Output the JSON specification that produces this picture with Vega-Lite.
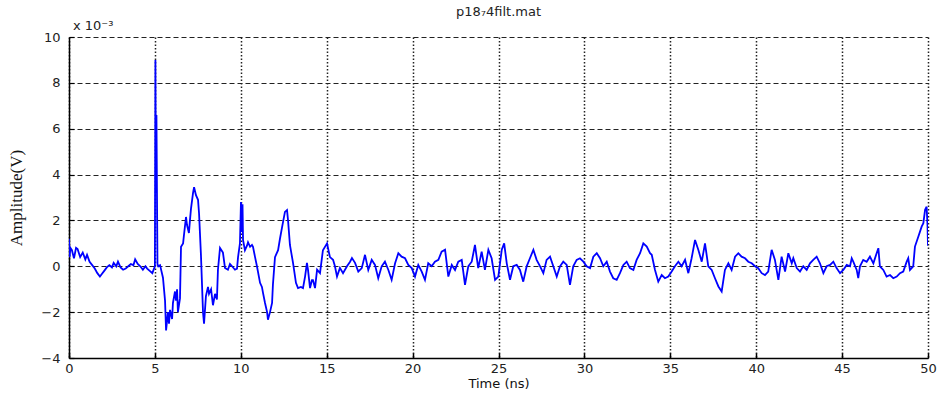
{
  "$schema": "https://vega.github.io/schema/vega-lite/v6.json",
  "width": 859,
  "height": 321,
  "autosize": {"type": "none"},
  "padding": {"left": 69, "top": 37, "right": 17, "bottom": 39},
  "background": "white",
  "config": {
    "view": {"stroke": null},
    "axis": {
      "labelFont": "DejaVu Sans",
      "labelFontSize": 13,
      "labelColor": "#222222",
      "titleColor": "#111111",
      "domainColor": "#000000",
      "domainWidth": 1.5,
      "tickColor": "#000000",
      "gridColor": "#222222",
      "gridWidth": 1,
      "gridOpacity": 1
    }
  },
  "datasets": {
    "signal": [
      {"t": 0.0, "amp_mV": 1.2}, {"t": 0.03, "amp_mV": 0.4}, {"t": 0.08, "amp_mV": 0.8},
      {"t": 0.17, "amp_mV": 0.7}, {"t": 0.29, "amp_mV": 0.35}, {"t": 0.41, "amp_mV": 0.8},
      {"t": 0.5, "amp_mV": 0.75}, {"t": 0.65, "amp_mV": 0.4}, {"t": 0.8, "amp_mV": 0.6},
      {"t": 0.95, "amp_mV": 0.3}, {"t": 1.05, "amp_mV": 0.5}, {"t": 1.2, "amp_mV": 0.2},
      {"t": 1.35, "amp_mV": 0.05}, {"t": 1.5, "amp_mV": -0.1}, {"t": 1.65, "amp_mV": -0.3},
      {"t": 1.8, "amp_mV": -0.45}, {"t": 1.9, "amp_mV": -0.35}, {"t": 2.05, "amp_mV": -0.2},
      {"t": 2.2, "amp_mV": -0.05}, {"t": 2.35, "amp_mV": 0.05}, {"t": 2.5, "amp_mV": -0.05},
      {"t": 2.6, "amp_mV": 0.15}, {"t": 2.75, "amp_mV": 0.0}, {"t": 2.85, "amp_mV": 0.2},
      {"t": 3.0, "amp_mV": -0.05}, {"t": 3.15, "amp_mV": -0.15}, {"t": 3.3, "amp_mV": -0.1},
      {"t": 3.45, "amp_mV": 0.0}, {"t": 3.6, "amp_mV": 0.1}, {"t": 3.75, "amp_mV": 0.05},
      {"t": 3.85, "amp_mV": 0.3}, {"t": 4.0, "amp_mV": 0.1}, {"t": 4.15, "amp_mV": 0.0},
      {"t": 4.3, "amp_mV": -0.15}, {"t": 4.45, "amp_mV": 0.0}, {"t": 4.55, "amp_mV": -0.1},
      {"t": 4.7, "amp_mV": -0.2}, {"t": 4.85, "amp_mV": -0.3}, {"t": 4.95, "amp_mV": -0.1},
      {"t": 5.0, "amp_mV": 0.0}, {"t": 5.03, "amp_mV": 9.0}, {"t": 5.06, "amp_mV": 3.2},
      {"t": 5.09, "amp_mV": 6.6}, {"t": 5.12, "amp_mV": 3.2}, {"t": 5.15, "amp_mV": 0.1},
      {"t": 5.2, "amp_mV": 0.0}, {"t": 5.3, "amp_mV": 0.05}, {"t": 5.47, "amp_mV": -0.5},
      {"t": 5.59, "amp_mV": -1.5}, {"t": 5.65, "amp_mV": -2.8}, {"t": 5.76, "amp_mV": -2.0},
      {"t": 5.82, "amp_mV": -2.5}, {"t": 5.88, "amp_mV": -1.9}, {"t": 6.0, "amp_mV": -2.3},
      {"t": 6.05, "amp_mV": -1.6}, {"t": 6.17, "amp_mV": -1.1}, {"t": 6.23, "amp_mV": -1.5},
      {"t": 6.29, "amp_mV": -1.0}, {"t": 6.34, "amp_mV": -2.0}, {"t": 6.46, "amp_mV": -1.4},
      {"t": 6.52, "amp_mV": 0.85}, {"t": 6.64, "amp_mV": 1.0}, {"t": 6.69, "amp_mV": 1.35},
      {"t": 6.81, "amp_mV": 2.15}, {"t": 6.87, "amp_mV": 1.8}, {"t": 6.98, "amp_mV": 1.45},
      {"t": 7.04, "amp_mV": 2.0}, {"t": 7.1, "amp_mV": 2.5}, {"t": 7.22, "amp_mV": 3.2},
      {"t": 7.28, "amp_mV": 3.45}, {"t": 7.39, "amp_mV": 3.1}, {"t": 7.51, "amp_mV": 2.9},
      {"t": 7.57, "amp_mV": 2.3}, {"t": 7.68, "amp_mV": 0.5}, {"t": 7.8, "amp_mV": -2.0},
      {"t": 7.86, "amp_mV": -2.5}, {"t": 7.97, "amp_mV": -1.3}, {"t": 8.09, "amp_mV": -0.9},
      {"t": 8.15, "amp_mV": -1.2}, {"t": 8.27, "amp_mV": -1.0}, {"t": 8.38, "amp_mV": -1.7},
      {"t": 8.5, "amp_mV": -1.2}, {"t": 8.61, "amp_mV": -1.45}, {"t": 8.67, "amp_mV": -0.15},
      {"t": 8.79, "amp_mV": 0.8}, {"t": 8.96, "amp_mV": 0.6}, {"t": 9.08, "amp_mV": -0.07},
      {"t": 9.25, "amp_mV": -0.15}, {"t": 9.37, "amp_mV": 0.1}, {"t": 9.49, "amp_mV": 0.0},
      {"t": 9.66, "amp_mV": -0.15}, {"t": 9.78, "amp_mV": -0.1}, {"t": 9.84, "amp_mV": 0.4},
      {"t": 9.95, "amp_mV": 1.0}, {"t": 10.01, "amp_mV": 2.8}, {"t": 10.07, "amp_mV": 1.5},
      {"t": 10.1, "amp_mV": 2.7}, {"t": 10.13, "amp_mV": 1.15}, {"t": 10.24, "amp_mV": 0.7},
      {"t": 10.36, "amp_mV": 0.9}, {"t": 10.42, "amp_mV": 1.05}, {"t": 10.54, "amp_mV": 0.85},
      {"t": 10.65, "amp_mV": 0.93}, {"t": 10.71, "amp_mV": 0.85}, {"t": 10.83, "amp_mV": 0.4},
      {"t": 10.94, "amp_mV": 0.0}, {"t": 11.12, "amp_mV": -0.72}, {"t": 11.23, "amp_mV": -0.9},
      {"t": 11.29, "amp_mV": -1.15}, {"t": 11.41, "amp_mV": -1.6}, {"t": 11.53, "amp_mV": -2.0},
      {"t": 11.58, "amp_mV": -2.33}, {"t": 11.7, "amp_mV": -2.0}, {"t": 11.82, "amp_mV": -1.6},
      {"t": 11.87, "amp_mV": -0.8}, {"t": 11.99, "amp_mV": 0.4}, {"t": 12.17, "amp_mV": 0.7},
      {"t": 12.28, "amp_mV": 1.2}, {"t": 12.4, "amp_mV": 1.7}, {"t": 12.57, "amp_mV": 2.37},
      {"t": 12.69, "amp_mV": 2.45}, {"t": 12.75, "amp_mV": 2.0}, {"t": 12.86, "amp_mV": 0.93},
      {"t": 13.04, "amp_mV": 0.15}, {"t": 13.21, "amp_mV": -0.72}, {"t": 13.33, "amp_mV": -0.95},
      {"t": 13.5, "amp_mV": -0.9}, {"t": 13.62, "amp_mV": -0.95}, {"t": 13.74, "amp_mV": -0.45},
      {"t": 13.85, "amp_mV": 0.15}, {"t": 13.91, "amp_mV": -0.15}, {"t": 14.03, "amp_mV": -0.95},
      {"t": 14.14, "amp_mV": -0.6}, {"t": 14.2, "amp_mV": -0.6}, {"t": 14.32, "amp_mV": -0.95},
      {"t": 14.44, "amp_mV": -0.15}, {"t": 14.61, "amp_mV": -0.3}, {"t": 14.78, "amp_mV": 0.7},
      {"t": 15.02, "amp_mV": 1.0}, {"t": 15.13, "amp_mV": 0.6}, {"t": 15.19, "amp_mV": 0.4},
      {"t": 15.37, "amp_mV": 0.28}, {"t": 15.48, "amp_mV": 0.0}, {"t": 15.6, "amp_mV": -0.45},
      {"t": 15.77, "amp_mV": -0.07}, {"t": 15.95, "amp_mV": -0.3}, {"t": 16.18, "amp_mV": 0.0},
      {"t": 16.36, "amp_mV": 0.2}, {"t": 16.47, "amp_mV": 0.36}, {"t": 16.65, "amp_mV": 0.15},
      {"t": 16.84, "amp_mV": -0.23}, {"t": 17.04, "amp_mV": -0.08}, {"t": 17.23, "amp_mV": 0.5},
      {"t": 17.42, "amp_mV": -0.16}, {"t": 17.62, "amp_mV": 0.28}, {"t": 17.81, "amp_mV": 0.06},
      {"t": 18.0, "amp_mV": -0.52}, {"t": 18.2, "amp_mV": 0.0}, {"t": 18.39, "amp_mV": 0.2},
      {"t": 18.59, "amp_mV": -0.16}, {"t": 18.78, "amp_mV": -0.59}, {"t": 18.98, "amp_mV": 0.13},
      {"t": 19.17, "amp_mV": 0.57}, {"t": 19.36, "amp_mV": 0.42}, {"t": 19.56, "amp_mV": 0.35},
      {"t": 19.75, "amp_mV": 0.06}, {"t": 19.95, "amp_mV": -0.08}, {"t": 20.14, "amp_mV": -0.45},
      {"t": 20.33, "amp_mV": 0.06}, {"t": 20.53, "amp_mV": -0.23}, {"t": 20.72, "amp_mV": -0.59},
      {"t": 20.91, "amp_mV": 0.13}, {"t": 21.11, "amp_mV": 0.0}, {"t": 21.3, "amp_mV": 0.2},
      {"t": 21.5, "amp_mV": 0.28}, {"t": 21.69, "amp_mV": 0.64}, {"t": 21.89, "amp_mV": 0.72},
      {"t": 22.08, "amp_mV": -0.45}, {"t": 22.28, "amp_mV": 0.06}, {"t": 22.47, "amp_mV": -0.16},
      {"t": 22.66, "amp_mV": 0.2}, {"t": 22.86, "amp_mV": 0.28}, {"t": 23.05, "amp_mV": -0.81},
      {"t": 23.24, "amp_mV": 0.0}, {"t": 23.44, "amp_mV": 0.2}, {"t": 23.63, "amp_mV": 0.93},
      {"t": 23.82, "amp_mV": -0.08}, {"t": 24.02, "amp_mV": 0.64}, {"t": 24.21, "amp_mV": -0.16},
      {"t": 24.41, "amp_mV": 0.72}, {"t": 24.6, "amp_mV": 0.35}, {"t": 24.8, "amp_mV": -0.59},
      {"t": 24.99, "amp_mV": -0.45}, {"t": 25.19, "amp_mV": 0.72}, {"t": 25.33, "amp_mV": 1.0},
      {"t": 25.48, "amp_mV": 0.13}, {"t": 25.67, "amp_mV": -0.59}, {"t": 25.86, "amp_mV": 0.0},
      {"t": 26.06, "amp_mV": 0.06}, {"t": 26.25, "amp_mV": -0.16}, {"t": 26.44, "amp_mV": -0.67},
      {"t": 26.64, "amp_mV": 0.0}, {"t": 26.83, "amp_mV": 0.35}, {"t": 27.03, "amp_mV": 0.72},
      {"t": 27.22, "amp_mV": 0.28}, {"t": 27.42, "amp_mV": 0.0}, {"t": 27.61, "amp_mV": -0.3},
      {"t": 27.8, "amp_mV": 0.28}, {"t": 28.0, "amp_mV": 0.42}, {"t": 28.19, "amp_mV": 0.0},
      {"t": 28.39, "amp_mV": -0.45}, {"t": 28.58, "amp_mV": 0.0}, {"t": 28.77, "amp_mV": 0.2},
      {"t": 28.97, "amp_mV": 0.06}, {"t": 29.16, "amp_mV": -0.81}, {"t": 29.35, "amp_mV": 0.0},
      {"t": 29.55, "amp_mV": 0.28}, {"t": 29.74, "amp_mV": 0.35}, {"t": 29.94, "amp_mV": 0.2},
      {"t": 30.13, "amp_mV": 0.0}, {"t": 30.33, "amp_mV": -0.08}, {"t": 30.52, "amp_mV": 0.42},
      {"t": 30.72, "amp_mV": 0.57}, {"t": 30.91, "amp_mV": 0.35}, {"t": 31.1, "amp_mV": 0.0},
      {"t": 31.3, "amp_mV": 0.2}, {"t": 31.49, "amp_mV": -0.23}, {"t": 31.68, "amp_mV": -0.52},
      {"t": 31.88, "amp_mV": -0.59}, {"t": 32.07, "amp_mV": -0.3}, {"t": 32.27, "amp_mV": 0.06},
      {"t": 32.46, "amp_mV": 0.2}, {"t": 32.65, "amp_mV": -0.08}, {"t": 32.85, "amp_mV": -0.16},
      {"t": 33.04, "amp_mV": 0.28}, {"t": 33.24, "amp_mV": 0.57}, {"t": 33.43, "amp_mV": 1.0},
      {"t": 33.63, "amp_mV": 0.86}, {"t": 33.82, "amp_mV": 0.57}, {"t": 33.92, "amp_mV": 0.5},
      {"t": 34.11, "amp_mV": -0.16}, {"t": 34.3, "amp_mV": -0.67}, {"t": 34.5, "amp_mV": -0.38},
      {"t": 34.69, "amp_mV": -0.52}, {"t": 34.88, "amp_mV": -0.45}, {"t": 35.08, "amp_mV": -0.23},
      {"t": 35.27, "amp_mV": 0.0}, {"t": 35.47, "amp_mV": 0.2}, {"t": 35.66, "amp_mV": 0.0},
      {"t": 35.86, "amp_mV": 0.28}, {"t": 36.05, "amp_mV": -0.3}, {"t": 36.24, "amp_mV": 0.35},
      {"t": 36.44, "amp_mV": 1.15}, {"t": 36.63, "amp_mV": 0.72}, {"t": 36.83, "amp_mV": 0.2},
      {"t": 37.02, "amp_mV": 1.0}, {"t": 37.21, "amp_mV": 0.0}, {"t": 37.41, "amp_mV": -0.16},
      {"t": 37.6, "amp_mV": -0.52}, {"t": 37.8, "amp_mV": -0.88}, {"t": 37.99, "amp_mV": -1.1},
      {"t": 38.18, "amp_mV": -0.16}, {"t": 38.38, "amp_mV": 0.13}, {"t": 38.57, "amp_mV": -0.16},
      {"t": 38.77, "amp_mV": 0.42}, {"t": 38.96, "amp_mV": 0.57}, {"t": 39.15, "amp_mV": 0.42},
      {"t": 39.35, "amp_mV": 0.35}, {"t": 39.54, "amp_mV": 0.2}, {"t": 39.74, "amp_mV": 0.13},
      {"t": 39.93, "amp_mV": 0.0}, {"t": 40.12, "amp_mV": -0.08}, {"t": 40.32, "amp_mV": -0.3},
      {"t": 40.51, "amp_mV": -0.38}, {"t": 40.7, "amp_mV": -0.23}, {"t": 40.9, "amp_mV": 0.72},
      {"t": 41.09, "amp_mV": 0.28}, {"t": 41.29, "amp_mV": -0.59}, {"t": 41.48, "amp_mV": 0.42},
      {"t": 41.68, "amp_mV": -0.23}, {"t": 41.87, "amp_mV": 0.57}, {"t": 42.07, "amp_mV": 0.13},
      {"t": 42.16, "amp_mV": 0.35}, {"t": 42.36, "amp_mV": -0.08}, {"t": 42.55, "amp_mV": -0.23},
      {"t": 42.74, "amp_mV": 0.0}, {"t": 42.94, "amp_mV": -0.16}, {"t": 43.13, "amp_mV": 0.13},
      {"t": 43.32, "amp_mV": 0.28}, {"t": 43.52, "amp_mV": 0.42}, {"t": 43.71, "amp_mV": 0.13},
      {"t": 43.91, "amp_mV": -0.3}, {"t": 44.1, "amp_mV": 0.0}, {"t": 44.3, "amp_mV": 0.06},
      {"t": 44.49, "amp_mV": 0.2}, {"t": 44.68, "amp_mV": -0.08}, {"t": 44.88, "amp_mV": -0.3},
      {"t": 45.07, "amp_mV": -0.16}, {"t": 45.27, "amp_mV": 0.06}, {"t": 45.46, "amp_mV": 0.0},
      {"t": 45.56, "amp_mV": 0.35}, {"t": 45.65, "amp_mV": 0.2}, {"t": 45.85, "amp_mV": -0.16},
      {"t": 45.94, "amp_mV": -0.52}, {"t": 46.04, "amp_mV": 0.0}, {"t": 46.23, "amp_mV": 0.28},
      {"t": 46.43, "amp_mV": 0.2}, {"t": 46.62, "amp_mV": 0.42}, {"t": 46.82, "amp_mV": 0.13},
      {"t": 47.01, "amp_mV": 0.57}, {"t": 47.11, "amp_mV": 0.79}, {"t": 47.2, "amp_mV": 0.0},
      {"t": 47.4, "amp_mV": -0.16}, {"t": 47.59, "amp_mV": -0.45}, {"t": 47.79, "amp_mV": -0.38},
      {"t": 47.98, "amp_mV": -0.52}, {"t": 48.18, "amp_mV": -0.45}, {"t": 48.37, "amp_mV": -0.3},
      {"t": 48.56, "amp_mV": -0.23}, {"t": 48.76, "amp_mV": 0.2}, {"t": 48.85, "amp_mV": 0.35},
      {"t": 48.95, "amp_mV": -0.16}, {"t": 49.14, "amp_mV": 0.0}, {"t": 49.24, "amp_mV": 0.86},
      {"t": 49.44, "amp_mV": 1.3}, {"t": 49.63, "amp_mV": 1.73}, {"t": 49.73, "amp_mV": 1.88},
      {"t": 49.83, "amp_mV": 2.46}, {"t": 49.92, "amp_mV": 2.6}, {"t": 49.97, "amp_mV": 1.8},
      {"t": 50.0, "amp_mV": 0.9}
    ],
    "scaleNote": [{"label": "x 10⁻³"}],
    "heading": [{"label": "p18₇4filt.mat"}]
  },
  "layer": [
    {
      "data": {"name": "signal"},
      "mark": {"type": "line", "color": "#0000FF", "strokeWidth": 1.8, "clip": true},
      "encoding": {
        "x": {
          "field": "t",
          "type": "quantitative",
          "scale": {"domain": [0, 50], "nice": false, "zero": false},
          "axis": {
            "title": "Time (ns)",
            "titleFont": "DejaVu Sans",
            "titleFontSize": 13,
            "titleFontWeight": "normal",
            "titlePadding": 2,
            "values": [0, 5, 10, 15, 20, 25, 30, 35, 40, 45, 50],
            "grid": true,
            "gridDash": [1.5, 2],
            "gridWidth": 1.5,
            "ticks": true,
            "tickSize": -5,
            "tickWidth": 1.5,
            "labelPadding": 9,
            "labelFlush": false
          }
        },
        "y": {
          "field": "amp_mV",
          "type": "quantitative",
          "scale": {"domain": [-4, 10], "nice": false, "zero": false},
          "axis": {
            "title": "Amplitude(V)",
            "titleFont": "Liberation Serif",
            "titleFontSize": 17,
            "titleFontWeight": "normal",
            "titlePadding": 15,
            "values": [-4, -2, 0, 2, 4, 6, 8, 10],
            "grid": true,
            "gridDash": [5, 3],
            "gridWidth": 1.2,
            "ticks": true,
            "tickSize": -5,
            "tickWidth": 1.2,
            "labelPadding": 14,
            "labelFlush": false
          }
        }
      }
    },
    {
      "data": {"name": "scaleNote"},
      "mark": {
        "type": "text",
        "align": "left",
        "baseline": "bottom",
        "dx": 4,
        "dy": -4,
        "font": "DejaVu Sans",
        "fontSize": 13,
        "color": "#222222"
      },
      "encoding": {
        "x": {"datum": 0, "type": "quantitative"},
        "y": {"datum": 10, "type": "quantitative"},
        "text": {"field": "label"}
      }
    },
    {
      "data": {"name": "heading"},
      "mark": {
        "type": "text",
        "align": "center",
        "baseline": "bottom",
        "dy": -18,
        "font": "DejaVu Sans",
        "fontSize": 13,
        "color": "#222222"
      },
      "encoding": {
        "x": {"datum": 25, "type": "quantitative"},
        "y": {"datum": 10, "type": "quantitative"},
        "text": {"field": "label"}
      }
    }
  ]
}
